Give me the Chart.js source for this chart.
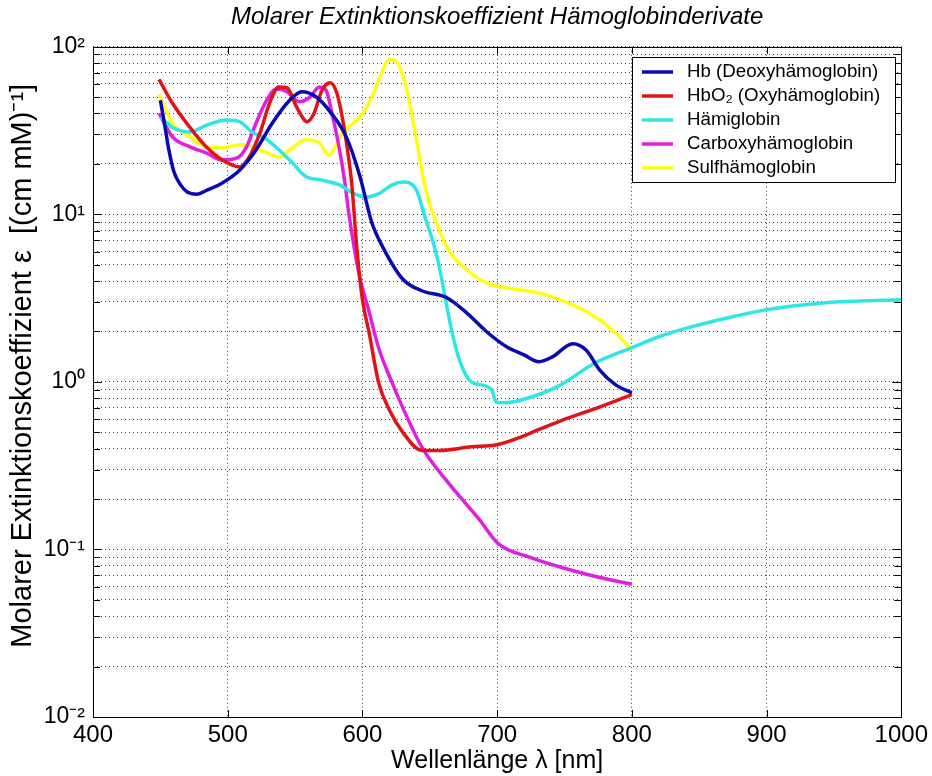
<!DOCTYPE html>
<html>
<head>
<meta charset="utf-8">
<script src="https://cdn.jsdelivr.net/npm/chart.js@4.4.1/dist/chart.umd.min.js"></script>
<style>
  html, body { margin: 0; padding: 0; background: #fff; }
  #wrap { width: 932px; height: 776px; }
</style>
</head>
<body>
<div id="wrap"><canvas id="chart" width="932" height="776"></canvas></div>
<script>
// --- data (wavelength in nm, coefficient in (cm mM)^-1) ---
const hbNm  = [450, 453, 456, 460, 465, 470, 477, 485, 496, 509, 521, 533, 546, 555, 566, 577, 588, 598, 607, 615, 630, 644, 662, 677, 692, 707, 720, 731, 741, 756, 766, 776, 788, 800];
const hbVal = [48, 35, 25, 18, 15, 13.6, 13.2, 14, 15.4, 18.4, 24.2, 35, 48, 54, 50, 40, 29, 17, 8.9, 6.4, 4.1, 3.5, 3.2, 2.6, 2.0, 1.62, 1.45, 1.32, 1.41, 1.69, 1.55, 1.18, 0.96, 0.86];

const hbo2Nm  = [449, 459, 472, 484, 496, 509, 516, 524, 531, 538, 544, 551, 559, 564, 570, 576, 581, 585, 589, 592, 596, 600, 605, 612, 620, 630, 644, 657, 681, 699, 718, 731, 748, 770, 800];
const hbo2Val = [64, 46, 33, 25.3, 21.1, 19.2, 22, 30.7, 46, 57.6, 57, 44, 35.7, 40, 55, 61, 53, 38, 24, 15.4, 6.1, 3.1, 1.96, 0.99, 0.68, 0.5, 0.39, 0.39, 0.41, 0.42, 0.47, 0.52, 0.59, 0.68, 0.84];

const hiNm  = [450, 459, 472, 484, 499, 509, 518, 529, 538, 548, 558, 570, 583, 593, 603, 613, 622, 630, 640, 647, 652, 657, 662, 667, 672, 681, 696, 699, 705, 718, 744, 773, 800, 820, 844, 870, 899, 944, 1000];
const hiVal = [38, 33, 31, 34, 36.6, 35.7, 31, 28, 24.3, 20.3, 16.8, 16, 15, 13.4, 12.7, 13.4, 15, 15.6, 14, 9.3, 7, 4.9, 3.0, 1.9, 1.35, 1.0, 0.9, 0.76, 0.75, 0.78, 0.93, 1.3, 1.6, 1.86, 2.13, 2.4, 2.69, 2.97, 3.09];

const coNm  = [449, 459, 472, 484, 496, 507, 514, 521, 529, 536, 544, 553, 561, 568, 573, 578, 583, 587, 590, 598, 604, 612, 622, 630, 644, 662, 687, 701, 724, 748, 773, 800];
const coVal = [40, 29, 25.3, 23.3, 21.1, 21.7, 25.3, 35, 48, 56, 54, 47, 50, 57.6, 55, 38, 24.3, 15.4, 10, 4.2, 2.8, 1.6, 0.99, 0.7, 0.41, 0.26, 0.15, 0.108, 0.09, 0.078, 0.069, 0.062];

const sulfNm  = [449, 459, 472, 484, 496, 509, 518, 529, 538, 548, 558, 568, 575, 585, 598, 607, 613, 620, 626, 633, 640, 647, 655, 664, 677, 692, 707, 731, 756, 776, 788, 800];
const sulfVal = [52, 35, 29, 25.3, 25, 26, 25.3, 23.3, 22, 25, 27.9, 26.7, 22.6, 30.7, 38, 50, 66, 84, 80, 55, 28, 14, 8.9, 6.1, 4.7, 3.9, 3.64, 3.4, 2.88, 2.35, 1.96, 1.55];

const seriesLabels = ['Hb (Deoxyhämoglobin)', 'HbO₂ (Oxyhämoglobin)', 'Hämiglobin', 'Carboxyhämoglobin', 'Sulfhämoglobin'];
const seriesColors = ['#0a0ab4', '#e01414', '#2ee6e6', '#e020e0', '#ffff14'];

const xTicks = [400, 500, 600, 700, 800, 900, 1000];
const yTickValues = [0.01, 0.1, 1, 10, 100];
const yTickLabels = ['10⁻²', '10⁻¹', '10⁰', '10¹', '10²'];

const FONT = 'Arial, "Liberation Sans", Helvetica, sans-serif';

const toPoints = (xs, ys) => xs.map((x, i) => ({ x: x, y: ys[i] }));
const seriesData = [
    toPoints(hbNm, hbVal),
    toPoints(hbo2Nm, hbo2Val),
    toPoints(hiNm, hiVal),
    toPoints(coNm, coVal),
    toPoints(sulfNm, sulfVal)
];

// center the title over the plot area instead of the whole canvas
const titleCenterPlugin = {
    id: 'titleCenter',
    afterLayout(chart) {
        if (chart.titleBlock) {
            chart.titleBlock.left = chart.chartArea.left;
            chart.titleBlock.right = chart.chartArea.right;
        }
    }
};

// frame and inward tick marks like the original plot
const framePlugin = {
    id: 'frame',
    afterDatasetsDraw(chart) {
        const { ctx, chartArea: a, scales } = chart;
        ctx.save();
        ctx.strokeStyle = '#000';
        ctx.lineWidth = 1;
        ctx.setLineDash([]);
        ctx.beginPath();
        scales.x.ticks.forEach(t => {
            const px = Math.round(scales.x.getPixelForValue(t.value)) + 0.5;
            ctx.moveTo(px, a.top); ctx.lineTo(px, a.top + 7);
            ctx.moveTo(px, a.bottom); ctx.lineTo(px, a.bottom - 7);
        });
        scales.y.ticks.forEach(t => {
            const py = Math.round(scales.y.getPixelForValue(t.value)) + 0.5;
            const len = yTickValues.includes(t.value) ? 9 : 7;
            ctx.moveTo(a.left, py); ctx.lineTo(a.left + len, py);
            ctx.moveTo(a.right, py); ctx.lineTo(a.right - len, py);
        });
        ctx.stroke();
        ctx.strokeRect(Math.round(a.left) + 0.5, Math.round(a.top) + 0.5,
            Math.round(a.right - a.left), Math.round(a.bottom - a.top));
        ctx.restore();
    }
};

// boxed legend in the upper right corner of the plot
const legendPlugin = {
    id: 'boxLegend',
    afterDraw(chart) {
        const { ctx } = chart;
        const box = { x: 632, y: 57, w: 263, h: 125 };
        ctx.save();
        ctx.fillStyle = '#fff';
        ctx.fillRect(box.x, box.y, box.w, box.h);
        ctx.strokeStyle = '#000';
        ctx.lineWidth = 1;
        ctx.strokeRect(box.x + 0.5, box.y + 0.5, box.w, box.h);
        ctx.font = '18.7px ' + FONT;
        ctx.textBaseline = 'middle';
        chart.data.datasets.forEach((ds, i) => {
            const yy = box.y + 15 + i * 24;
            ctx.strokeStyle = ds.borderColor;
            ctx.lineWidth = 3.5;
            ctx.beginPath();
            ctx.moveTo(box.x + 10, yy);
            ctx.lineTo(box.x + 41, yy);
            ctx.stroke();
            ctx.fillStyle = '#000';
            ctx.fillText(ds.label, box.x + 55, yy);
        });
        ctx.restore();
    }
};

const gridStyle = {
    color: 'rgba(0,0,0,0.75)',
    lineWidth: 1,
    drawTicks: false
};

new Chart(document.getElementById('chart'), {
    type: 'line',
    data: {
        datasets: seriesData.map((pts, i) => ({
            label: seriesLabels[i],
            data: pts,
            borderColor: seriesColors[i],
            backgroundColor: seriesColors[i],
            borderWidth: 3.5,
            pointRadius: 0,
            fill: false,
            cubicInterpolationMode: 'monotone'
        }))
    },
    options: {
        responsive: false,
        animation: false,
        layout: { padding: { top: 0, right: 29, bottom: 0, left: 0 } },
        plugins: {
            legend: { display: false },
            tooltip: { enabled: false },
            title: {
                display: true,
                text: 'Molarer Extinktionskoeffizient Hämoglobinderivate',
                color: '#000',
                font: { family: FONT, size: 24, style: 'italic', weight: 'normal' },
                padding: { top: 3, bottom: 15 }
            }
        },
        scales: {
            x: {
                type: 'linear',
                min: 400,
                max: 1000,
                afterBuildTicks: s => { s.ticks = xTicks.map(v => ({ value: v })); },
                afterFit: s => { s.height = 59; },
                ticks: {
                    color: '#000',
                    padding: 4,
                    maxRotation: 0,
                    font: { family: FONT, size: 24 },
                    callback: v => String(v)
                },
                grid: gridStyle,
                border: { display: false, dash: [1, 3] },
                title: {
                    display: true,
                    text: 'Wellenlänge λ [nm]',
                    color: '#000',
                    font: { family: FONT, size: 25 },
                    padding: { top: 0, bottom: 0 }
                }
            },
            y: {
                type: 'logarithmic',
                min: 0.01,
                max: 100,
                afterBuildTicks: s => {
                    const t = [];
                    for (let e = -2; e <= 1; e++) {
                        for (let m = 1; m <= 9; m++) t.push({ value: +(m * Math.pow(10, e)).toPrecision(3) });
                    }
                    t.push({ value: 100 });
                    s.ticks = t;
                },
                afterFit: s => { s.width = 93; },
                ticks: {
                    color: '#000',
                    padding: 8,
                    autoSkip: false,
                    font: { family: FONT, size: 23 },
                    callback: v => {
                        const k = yTickValues.findIndex(t => Math.abs(t - v) < t * 1e-6);
                        return k >= 0 ? yTickLabels[k] : '';
                    }
                },
                grid: gridStyle,
                border: { display: false, dash: [1, 3] },
                title: {
                    display: true,
                    text: '    Molarer Extinktionskoeffizient ε  [(cm mM)⁻¹]',
                    color: '#000',
                    font: { family: FONT, size: 29 },
                    padding: { top: 6, bottom: 0 }
                }
            }
        }
    },
    plugins: [titleCenterPlugin, framePlugin, legendPlugin]
});
</script>
</body>
</html>
